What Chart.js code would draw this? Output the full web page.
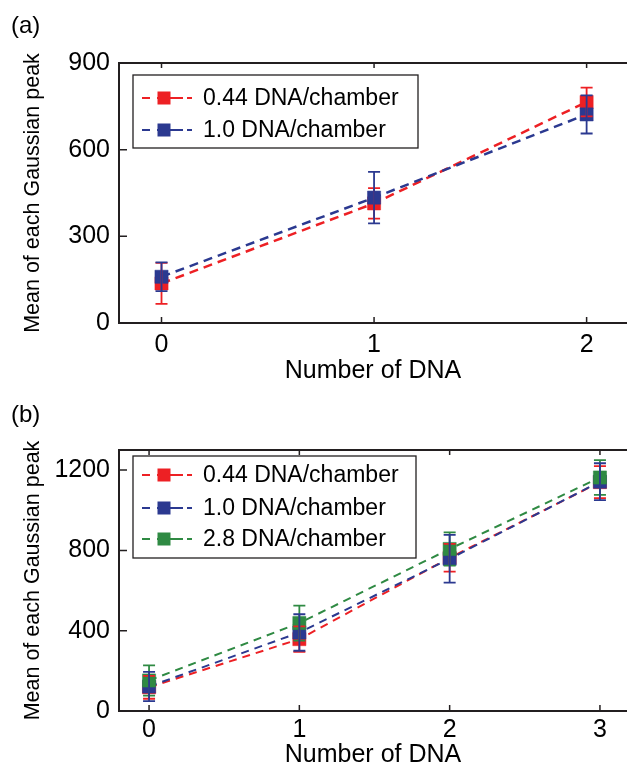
<!DOCTYPE html>
<html>
<head>
<meta charset="utf-8">
<script src="https://cdn.jsdelivr.net/npm/chart.js@4/dist/chart.umd.min.js"></script>
<style>
html,body{margin:0;padding:0;background:#fff;}
#wrap{position:relative;width:627px;height:772px;overflow:hidden;}
canvas{position:absolute;left:0;}
</style>
</head>
<body>
<div id="wrap">
<canvas id="ca" width="627" height="388" style="top:0;width:627px;height:388px"></canvas>
<canvas id="cb" width="627" height="384" style="top:388px;width:627px;height:384px"></canvas>
</div>
<script>
// ---------- data: panel (a) ----------
const xA = [0, 1, 2];
const redA = [137, 414, 765];
const redAErr = [71, 53, 50];
const blueA = [160, 434, 722];
const blueAErr = [50, 89, 66];
const xTicksA = [0, 1, 2];
const yTicksA = [0, 300, 600, 900];

// ---------- data: panel (b) ----------
const xB = [0, 1, 2, 3];
const redB = [118, 358, 763, 1140];
const redBErr = [57, 64, 69, 80];
const blueB = [122, 391, 758, 1142];
const blueBErr = [73, 91, 119, 92];
const greenB = [152, 438, 807, 1163];
const greenBErr = [75, 87, 83, 87];
const xTicksB = [0, 1, 2, 3];
const yTicksB = [0, 400, 800, 1200];

const seriesLabels = ['0.44 DNA/chamber', '1.0 DNA/chamber', '2.8 DNA/chamber'];
const xTitle = 'Number of DNA';
const yTitle = 'Mean of each Gaussian peak';

const RED = '#ed2024', BLUE = '#2b3990', GREEN = '#2f8a43';
const INK = '#231f20';
const FAM = '"Liberation Sans", Arial, Helvetica, sans-serif';

function pts(xs, ys) { return xs.map((x, i) => ({x: x, y: ys[i]})); }

function ds(label, xs, ys, errs, color, order, lw, dash) {
  return {
    label: label, data: pts(xs, ys), errors: errs,
    borderColor: color, backgroundColor: color,
    pointBackgroundColor: color, pointBorderColor: color,
    pointStyle: 'rect', pointRadius: 9.3, pointBorderWidth: 0.5,
    borderWidth: lw, borderDash: dash, fill: false, tension: 0,
    order: order
  };
}

const framePlugin = {
  id: 'frame',
  afterDatasetsDraw(chart, args, opts) {
    const ctx = chart.ctx;
    const xs = chart.scales.x, ys = chart.scales.y;
    const seq = opts.errOrder || chart.data.datasets.map((d, i) => i);
    seq.forEach(i => {
      const d = chart.data.datasets[i];
      ctx.save();
      ctx.strokeStyle = d.borderColor;
      ctx.lineWidth = opts.errWidth;
      d.data.forEach((p, k) => {
        const e = d.errors[k];
        const px = xs.getPixelForValue(p.x);
        const yt = ys.getPixelForValue(p.y + e);
        const yb = ys.getPixelForValue(p.y - e);
        const c = opts.cap;
        ctx.beginPath();
        ctx.moveTo(px, yt); ctx.lineTo(px, yb);
        ctx.moveTo(px - c, yt); ctx.lineTo(px + c, yt);
        ctx.moveTo(px - c, yb); ctx.lineTo(px + c, yb);
        ctx.stroke();
      });
      ctx.restore();
    });
  },
  afterDraw(chart, args, opts) {
    const ctx = chart.ctx, a = chart.chartArea;
    const xs = chart.scales.x, ys = chart.scales.y;
    ctx.save();
    ctx.strokeStyle = INK;
    ctx.lineWidth = 2;
    ctx.strokeRect(a.left, a.top, a.right - a.left + 4, a.bottom - a.top);
    ctx.lineWidth = 1.5;
    ctx.beginPath();
    xs.ticks.forEach(t => {
      const px = xs.getPixelForValue(t.value);
      ctx.moveTo(px, a.bottom); ctx.lineTo(px, a.bottom - 6);
      ctx.moveTo(px, a.top); ctx.lineTo(px, a.top + 5);
    });
    ys.ticks.forEach(t => {
      const py = ys.getPixelForValue(t.value);
      ctx.moveTo(a.left, py); ctx.lineTo(a.left + 8, py);
    });
    ctx.stroke();
    ctx.fillStyle = '#000';
    ctx.font = '24px ' + FAM;
    ctx.textBaseline = 'alphabetic';
    ctx.textAlign = 'left';
    ctx.fillText(opts.panel, 11, opts.panelY);
    const L = opts.legend;
    ctx.fillStyle = '#fff';
    ctx.fillRect(L.x, L.y, L.w, L.h);
    ctx.strokeStyle = INK;
    ctx.lineWidth = 1.3;
    ctx.strokeRect(L.x, L.y, L.w, L.h);
    ctx.font = '23px ' + FAM;
    ctx.textBaseline = 'middle';
    chart.data.datasets.forEach((d, i) => {
      const cy = L.rows[i];
      ctx.strokeStyle = d.borderColor;
      ctx.fillStyle = d.borderColor;
      ctx.lineWidth = 2;
      ctx.beginPath();
      ctx.moveTo(L.x + 9, cy); ctx.lineTo(L.x + 17, cy);
      ctx.moveTo(L.x + 24, cy); ctx.lineTo(L.x + 50, cy);
      ctx.moveTo(L.x + 54, cy); ctx.lineTo(L.x + 59, cy);
      ctx.stroke();
      ctx.fillRect(L.x + 31 - 6.5, cy - 6.5, 13, 13);
      ctx.fillStyle = '#000';
      ctx.fillText(d.label, L.x + 70, cy + 1);
    });
    ctx.restore();
  }
};

function makeChart(id, datasets, xMax, xTicks, yMax, yTicks, xAxisH, top, tickPad, pluginOpts) {
  return new Chart(document.getElementById(id), {
    type: 'line',
    data: {datasets: datasets},
    plugins: [framePlugin],
    options: {
      responsive: false, animation: false, devicePixelRatio: 1,
      layout: {autoPadding: false, padding: {top: top, right: 0, left: 0, bottom: 0}},
      plugins: {legend: {display: false}, tooltip: {enabled: false}, frame: pluginOpts},
      scales: {
        x: {
          type: 'linear', min: -0.2, max: xMax,
          afterBuildTicks: s => { s.ticks = xTicks.map(v => ({value: v})); },
          afterFit: s => { s.height = xAxisH; s.paddingLeft = 0; s.paddingRight = 0; },
          grid: {display: false, drawTicks: false}, border: {display: false},
          ticks: {color: '#000', padding: tickPad, font: {family: FAM, size: 25}, callback: v => String(v)},
          title: {display: true, text: xTitle, color: '#000', font: {family: FAM, size: 25}, padding: {top: 0, bottom: 2}}
        },
        y: {
          type: 'linear', min: 0, max: yMax,
          afterBuildTicks: s => { s.ticks = yTicks.map(v => ({value: v})); },
          afterFit: s => { s.width = 119; },
          grid: {display: false, drawTicks: false}, border: {display: false},
          ticks: {color: '#000', padding: 9, font: {family: FAM, size: 25}, callback: v => String(v)},
          title: {display: true, text: yTitle, color: '#000', font: {family: FAM, size: 21.5}, padding: {top: 20, bottom: 0}}
        }
      }
    }
  });
}

makeChart('ca', [
  ds(seriesLabels[0], xA, redA, redAErr, RED, 2, 2.5, [9, 6]),
  ds(seriesLabels[1], xA, blueA, blueAErr, BLUE, 1, 2.5, [9, 6])
], 2.19, xTicksA, 900, yTicksA, 65, 63, 7, {
  panel: '(a)', panelY: 33, cap: 6, errWidth: 1.8, errOrder: [0, 1],
  legend: {x: 133, y: 75, w: 285, h: 73, rows: [98, 130]}
});

makeChart('cb', [
  ds(seriesLabels[0], xB, redB, redBErr, RED, 3, 2, [8, 6]),
  ds(seriesLabels[1], xB, blueB, blueBErr, BLUE, 2, 2, [8, 6]),
  ds(seriesLabels[2], xB, greenB, greenBErr, GREEN, 1, 2, [8, 6])
], 3.18, xTicksB, 1300, yTicksB, 61, 62, 4, {
  panel: '(b)', panelY: 34, cap: 6, errWidth: 1.8, errOrder: [0, 2, 1],
  legend: {x: 133, y: 68, w: 283, h: 102, rows: [87, 120, 151]}
});
</script>
</body>
</html>
